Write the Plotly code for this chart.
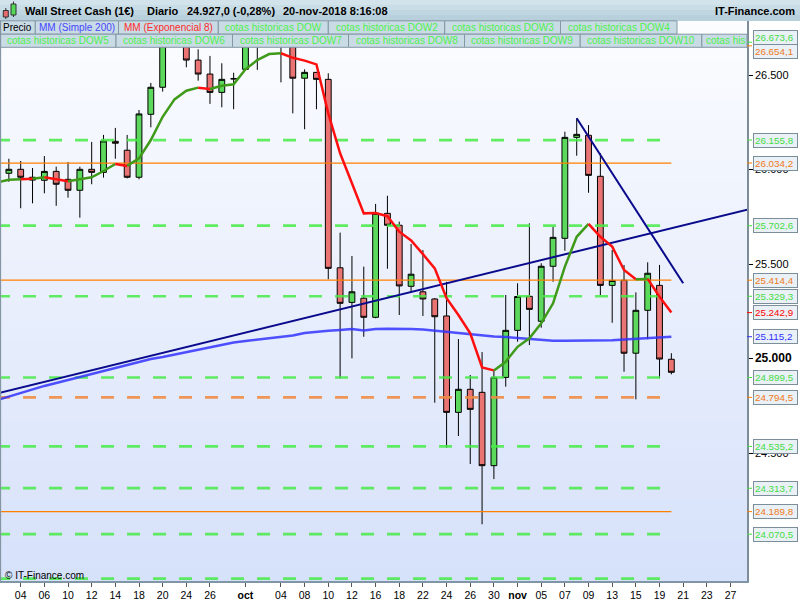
import numpy as np
import plotly.graph_objects as go

# ---------------- data ----------------
dates = ["2018-09-03", "2018-09-04", "2018-09-05", "2018-09-06", "2018-09-07",
         "2018-09-10", "2018-09-11", "2018-09-12", "2018-09-13", "2018-09-14",
         "2018-09-17", "2018-09-18", "2018-09-19", "2018-09-20", "2018-09-21",
         "2018-09-24", "2018-09-25", "2018-09-26", "2018-09-27", "2018-09-28",
         "2018-10-01", "2018-10-02", "2018-10-03", "2018-10-04", "2018-10-05",
         "2018-10-08", "2018-10-09", "2018-10-10", "2018-10-11", "2018-10-12",
         "2018-10-15", "2018-10-16", "2018-10-17", "2018-10-18", "2018-10-19",
         "2018-10-22", "2018-10-23", "2018-10-24", "2018-10-25", "2018-10-26",
         "2018-10-29", "2018-10-30", "2018-10-31", "2018-11-01", "2018-11-02",
         "2018-11-05", "2018-11-06", "2018-11-07", "2018-11-08", "2018-11-09",
         "2018-11-12", "2018-11-13", "2018-11-14", "2018-11-15", "2018-11-16",
         "2018-11-19", "2018-11-20"]

opens = [25980, 26001, 25959, 25943, 25990, 25948, 25890, 26001, 25985, 26149,
         26102, 25959, 26292, 26435, 26660, 26700, 26579, 26505, 26408, 26480,
         26530, 26680, 26760, 26790, 26650, 26483, 26514, 26477, 25480, 25297,
         25319, 25218, 25768, 25705, 25382, 25353, 25315, 25225, 24715, 24837,
         24821, 24433, 24900, 25149, 25329, 25197, 25488, 25636, 26170, 26181,
         25964, 25387, 25414, 25028, 25255, 25387, 24996]
highs = [26057, 26045, 26008, 26071, 26015, 26040, 26015, 26146, 26183, 26220,
         26183, 26315, 26458, 26670, 26775, 26725, 26636, 26601, 26562, 26512,
         26720, 26800, 26920, 26830, 26680, 26530, 26516, 26509, 25666, 25542,
         25486, 25818, 25861, 25724, 25606, 25574, 25320, 25406, 25103, 24913,
         25034, 24935, 25336, 25398, 25715, 25504, 25696, 26200, 26271, 26235,
         26086, 25574, 25495, 25350, 25509, 25495, 25028]
lows = [25935, 25795, 25821, 25874, 25808, 25851, 25745, 25922, 25957, 26057,
        25953, 25948, 26223, 26412, 26650, 26541, 26470, 26347, 26329, 26319,
        26528, 26527, 26700, 26461, 26297, 26213, 26319, 25419, 24895, 25001,
        25115, 25213, 25475, 25230, 25348, 25225, 24766, 24528, 24590, 24442,
        24123, 24362, 24851, 25089, 25071, 25163, 25406, 25570, 26073, 25877,
        25336, 25189, 24930, 24784, 25102, 24895, 24916]
closes = [26001, 25959, 25944, 25990, 25922, 25890, 26001, 25985, 26151, 26139,
          25959, 26294, 26435, 26655, 26745, 26579, 26505, 26408, 26477, 26480,
          26700, 26760, 26800, 26655, 26483, 26514, 26477, 25477, 25292, 25353,
          25218, 25768, 25705, 25384, 25446, 25315, 25221, 24715, 24837, 24731,
          24433, 24900, 25149, 25328, 25260, 25488, 25641, 26170, 26186, 25969,
          25387, 25413, 25028, 25255, 25451, 24997, 24927]

line_dates = ["2018-08-31"] + dates
sma200 = [24780, 24799, 24818, 24836, 24855, 24870, 24886, 24902, 24921, 24937,
          24952, 24968, 24982, 24997, 25008, 25021, 25034, 25048, 25061, 25071,
          25085, 25093, 25100, 25108, 25114, 25122, 25135, 25143, 25147, 25151,
          25156, 25148, 25156, 25158, 25158, 25156, 25154, 25148, 25140, 25133,
          25128, 25122, 25117, 25114, 25108, 25103, 25098, 25094, 25094, 25094,
          25094, 25094, 25096, 25100, 25103, 25107, 25110, 25115.2]
ema8 = [25931, 25946, 25948, 25951, 25959, 25948, 25938, 25948, 25959, 25992,
        26029, 26019, 26059, 26156, 26279, 26371, 26417, 26433, 26426, 26443,
        26451, 26530, 26579, 26611, 26615, 26591, 26576, 26556, 26297, 26086,
        25927, 25768, 25770, 25753, 25671, 25625, 25552, 25477, 25319, 25230,
        25133, 24953, 24937, 24983, 25062, 25107, 25186, 25292, 25486, 25644,
        25712, 25644, 25592, 25468, 25419, 25421, 25327, 25242.9]

green_levels = [26673.6, 26155.8, 25702.6, 25329.3, 24899.5, 24535.2, 24313.7, 24070.5]
green_level_edge = [23835.0]
orange_levels = [26654.1, 26034.2, 25414.4, 24189.8]
orange_dashed_levels = [24794.5]
level_span = ["2018-08-31", "2018-11-20"]

trend1_dates = ["2018-08-30", "2018-11-30"]
trend1_prices = [24800, 25812]
trend2_dates = ["2018-11-08", "2018-11-21"]
trend2_prices = [26271, 25398]

tick_dates = ["2018-09-04", "2018-09-06", "2018-09-10", "2018-09-12", "2018-09-14",
              "2018-09-18", "2018-09-20", "2018-09-24", "2018-09-26", "2018-10-01",
              "2018-10-04", "2018-10-08", "2018-10-10", "2018-10-12", "2018-10-16",
              "2018-10-18", "2018-10-22", "2018-10-24", "2018-10-26", "2018-10-30",
              "2018-11-01", "2018-11-05", "2018-11-07", "2018-11-09", "2018-11-13",
              "2018-11-15", "2018-11-19", "2018-11-21", "2018-11-23", "2018-11-27"]
tick_labels = ["04", "06", "10", "12", "14", "18", "20", "24", "26", "<b>oct</b>",
               "04", "08", "10", "12", "16", "18", "22", "24", "26", "30",
               "<b>nov</b>", "05", "07", "09", "13", "15", "19", "21", "23", "27"]
price_ticks = [24500, 25000, 25500, 26000, 26500]
price_tick_text = ["24.500", "<span style='font-size:12px'><b>25.000</b></span>",
                   "25.500", "26.000", "26.500"]

# ---------------- helpers ----------------
FONT = "Liberation Sans, Arial, sans-serif"
PL, PR, PT, PB = 0.0, 747.0, 21.0, 581.0
BASE = np.datetime64("2018-09-04")


def pos(d):
    return int(np.busday_count(BASE, np.datetime64(d)))


def fx(px):
    return (px - PL) / (PR - PL)


def fy(py):
    return (PB - py) / (PB - PT)


def fmt(v):
    s = f"{v:,.1f}"
    return s.replace(",", "X").replace(".", ",").replace("X", ".")


cx = [pos(d) for d in dates]
lx = [pos(d) for d in line_dates]
span_x = [pos(d) for d in level_span]

GREEN_LVL = "rgba(70,235,70,0.85)"
ORANGE_DASH = "rgba(240,140,70,0.9)"
ORANGE = "#ff8000"
GREEN_TXT = "#44dd44"
ORANGE_TXT = "#f07a20"

fig = go.Figure()

# horizontal levels
for v in green_levels + green_level_edge:
    fig.add_trace(go.Scatter(x=span_x, y=[v, v], mode="lines",
                             line=dict(color=GREEN_LVL, width=2.7, dash="13px,13px"),
                             hoverinfo="skip", showlegend=False))
for v in orange_dashed_levels:
    fig.add_trace(go.Scatter(x=span_x, y=[v, v], mode="lines",
                             line=dict(color=ORANGE_DASH, width=2.7, dash="13px,13px"),
                             hoverinfo="skip", showlegend=False))
for v in orange_levels:
    fig.add_trace(go.Scatter(x=span_x, y=[v, v], mode="lines",
                             line=dict(color=ORANGE, width=1.2),
                             hoverinfo="skip", showlegend=False))

# candles
fig.add_trace(go.Candlestick(
    x=cx, open=opens, high=highs, low=lows, close=closes,
    increasing=dict(fillcolor="#5cd85c", line=dict(color="black", width=1)),
    decreasing=dict(fillcolor="#ea7474", line=dict(color="black", width=1)),
    whiskerwidth=0, hoverinfo="skip", showlegend=False))

# SMA 200
fig.add_trace(go.Scatter(x=lx, y=sma200, mode="lines",
                         line=dict(color="rgba(50,50,255,0.85)", width=2.5),
                         hoverinfo="skip", showlegend=False))

# trend lines
for tx, ty in ((trend1_dates, trend1_prices), (trend2_dates, trend2_prices)):
    fig.add_trace(go.Scatter(x=[pos(d) for d in tx], y=ty, mode="lines",
                             line=dict(color="#0a0a8c", width=2),
                             hoverinfo="skip", showlegend=False))

# EMA 8 coloured by close vs ema
runs = []
cur = None
for i in range(1, len(lx)):
    col = "g" if closes[i - 1] > ema8[i] else "r"
    if col != cur:
        runs.append([col, [lx[i - 1]], [ema8[i - 1]]])
        cur = col
    runs[-1][1].append(lx[i])
    runs[-1][2].append(ema8[i])
for col, xs, ys in runs:
    fig.add_trace(go.Scatter(x=xs, y=ys, mode="lines",
                             line=dict(color="#3f9a1a" if col == "g" else "#ff1010", width=2.5),
                             hoverinfo="skip", showlegend=False))

shapes = []
annotations = []

# plot background gradient
nb = 28
top_c = np.array([252, 253, 255])
bot_c = np.array([214, 225, 250])
for k in range(nb):
    t = (k + 0.5) / nb
    c = top_c + (bot_c - top_c) * t
    y0 = PT + (PB - PT) * k / nb
    y1 = PT + (PB - PT) * (k + 1) / nb
    shapes.append(dict(type="rect", xref="paper", yref="paper", x0=0, x1=1,
                       y0=fy(y1), y1=fy(y0), line=dict(width=0), layer="below",
                       fillcolor=f"rgb({int(c[0])},{int(c[1])},{int(c[2])})"))

# header bar
hb = [(0, 5, "#d3e3ec"), (5, 10, "#c9dde7"), (10, 15, "#c0d6e1"), (15, 21, "#b8d0dc")]
for y0, y1, c in hb:
    shapes.append(dict(type="rect", xref="paper", yref="paper", x0=fx(0), x1=fx(800),
                       y0=fy(y1), y1=fy(y0), line=dict(width=0), fillcolor=c, layer="above"))

# header icon
shapes += [
    dict(type="line", xref="paper", yref="paper", x0=fx(5.8), x1=fx(5.8), y0=fy(19), y1=fy(8),
         line=dict(color="#333", width=1), layer="above"),
    dict(type="rect", xref="paper", yref="paper", x0=fx(3.3), x1=fx(8.3), y0=fy(17), y1=fy(10.5),
         fillcolor="#e86a6a", line=dict(color="#333", width=1), layer="above"),
    dict(type="line", xref="paper", yref="paper", x0=fx(13.5), x1=fx(13.5), y0=fy(17), y1=fy(1.5),
         line=dict(color="#333", width=1), layer="above"),
    dict(type="rect", xref="paper", yref="paper", x0=fx(11), x1=fx(16), y0=fy(15), y1=fy(4),
         fillcolor="#55d855", line=dict(color="#333", width=1), layer="above"),
]

header = [("Wall Street Cash (1€)", 23, "left"), ("Diario", 145, "left"),
          ("24.927,0 (-0,28%)", 185, "left"), ("20-nov-2018 8:16:08", 281, "left"),
          ("IT-Finance.com", 797, "right")]
for txt, x, anc in header:
    annotations.append(dict(text=f"<b>{txt}</b>", xref="paper", yref="paper", x=fx(x), y=fy(11.5),
                            xanchor=anc, yanchor="middle", showarrow=False,
                            font=dict(family=FONT, size=11, color="black")))

# legend cells
GREEN_LEG = "#4ff04f"
row1 = [(0, 35.3, "Precio", "black"), (35.3, 118.5, "MM (Simple 200)", "#4646ff"),
        (118.5, 218.3, "MM (Exponencial 8)", "#ff2a2a"),
        (218.3, 328.3, "cotas historicas DOW", GREEN_LEG),
        (328.3, 444.7, "cotas historicas DOW2", GREEN_LEG),
        (444.7, 560.5, "cotas historicas DOW3", GREEN_LEG),
        (560.5, 677, "cotas historicas DOW4", GREEN_LEG)]
row2 = [(0, 116, "cotas historicas DOW5", GREEN_LEG),
        (116, 232.5, "cotas historicas DOW6", GREEN_LEG),
        (232.5, 348.5, "cotas historicas DOW7", GREEN_LEG),
        (348.5, 464.5, "cotas historicas DOW8", GREEN_LEG),
        (464.5, 580.2, "cotas historicas DOW9", GREEN_LEG),
        (580.2, 701.8, "cotas historicas DOW10", GREEN_LEG),
        (701.8, 747, "cotas his", GREEN_LEG)]
for (cells, ya, yb) in ((row1, 20.8, 34.2), (row2, 34.2, 47.3)):
    for x0, x1, txt, col in cells:
        shapes.append(dict(type="rect", xref="paper", yref="paper", x0=fx(x0), x1=fx(x1),
                           y0=fy(yb), y1=fy(ya), fillcolor="#c9dbe4",
                           line=dict(color="#8497a5", width=1), layer="above"))
        if txt == "cotas his":
            annotations.append(dict(text=txt, xref="paper", yref="paper", x=fx(x0 + 2),
                                    y=fy((ya + yb) / 2), xanchor="left", yanchor="middle",
                                    showarrow=False, font=dict(family=FONT, size=10, color=col)))
        else:
            annotations.append(dict(text=txt, xref="paper", yref="paper", x=fx((x0 + x1) / 2),
                                    y=fy((ya + yb) / 2), xanchor="center", yanchor="middle",
                                    showarrow=False, font=dict(family=FONT, size=10, color=col)))

# right-side price labels
labels = [(v, GREEN_TXT, "#44dd44") for v in green_levels]
labels += [(v, ORANGE_TXT, ORANGE) for v in orange_levels + orange_dashed_levels]
labels += [(ema8[-1], "#ff0000", "#ff0000"), (sma200[-1], "#3030ff", "#3030ff")]
shift = {26673.6: 4.7, 26654.1: -5.8}
for v, tc, kc in labels:
    shapes.append(dict(type="line", xref="paper", yref="y", x0=1, x1=fx(752), y0=v, y1=v,
                       line=dict(color=kc, width=1)))
    annotations.append(dict(text=fmt(v), xref="paper", yref="y", x=fx(752.5), y=v,
                            yshift=shift.get(v, 0), xanchor="left", yanchor="middle",
                            showarrow=False, align="left", width=41, height=11,
                            bgcolor="#e9f0f6", bordercolor="#7d8e9b", borderwidth=1, borderpad=1,
                            font=dict(family=FONT, size=9.8, color=tc)))

# left border
shapes.append(dict(type="line", xref="paper", yref="paper", x0=0.0005, x1=0.0005, y0=0, y1=1,
                   line=dict(color="#8496a4", width=1.5)))

annotations.append(dict(text="© IT-Finance.com", xref="paper", yref="paper", x=fx(3), y=fy(575),
                        xanchor="left", yanchor="middle", showarrow=False,
                        font=dict(family=FONT, size=10, color="black")))

fig.update_layout(
    width=800, height=600, autosize=False,
    margin=dict(l=int(PL), r=int(800 - PR), t=int(PT), b=int(600 - PB), pad=0),
    paper_bgcolor="white", plot_bgcolor="white",
    showlegend=False, hovermode=False,
    shapes=shapes, annotations=annotations,
    font=dict(family=FONT, color="black"),
    xaxis=dict(type="linear", range=[(0 - 20.7) / 11.83, (747 - 20.7) / 11.83],
               tickvals=[pos(d) for d in tick_dates], ticktext=tick_labels,
               ticks="outside", ticklen=4, tickcolor="#555", showgrid=False, zeroline=False,
               showline=True, linecolor="#8096a6", linewidth=1.5,
               tickfont=dict(family=FONT, size=10.5, color="black"),
               rangeslider=dict(visible=False), automargin=False, fixedrange=True),
    yaxis=dict(side="right", range=[23822.8, 26785.7], tickvals=price_ticks,
               ticktext=price_tick_text, ticks="outside", ticklen=4, tickcolor="black",
               showgrid=False, zeroline=False, showline=True, linecolor="#7c8d99", linewidth=1.5,
               tickfont=dict(family=FONT, size=11, color="black"), automargin=False,
               fixedrange=True),
)

fig.write_html("out.html", config={"displayModeBar": False},
               post_script="document.body.style.margin='0px';document.body.style.padding='0px';document.body.style.overflow='hidden';")
